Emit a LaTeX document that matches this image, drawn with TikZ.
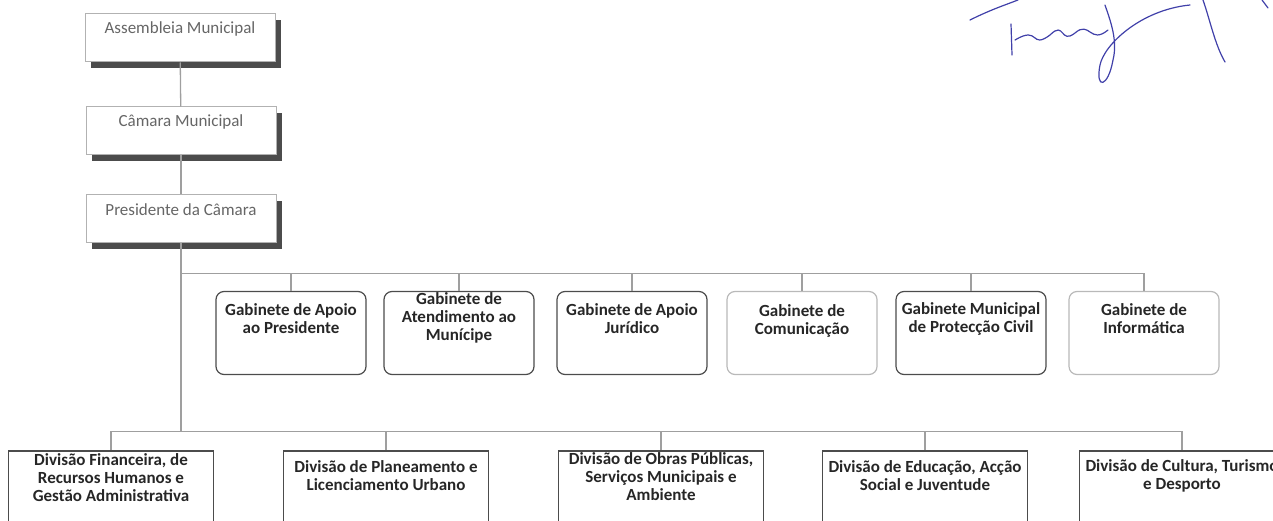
\documentclass[tikz,border=0pt]{standalone}
\usepackage{fontspec}
\setmainfont{Carlito}
\usetikzlibrary{positioning,shadows}

\begin{document}
\begin{tikzpicture}[x=1pt,y=-1pt,
            line/.style={draw=gray!75,line width=1.3pt},
            top/.style={draw=gray!60,fill=white,line width=1pt,
              minimum width=190pt,minimum height=48pt,
              drop shadow={shadow xshift=6pt,shadow yshift=-6pt,fill=black!70,opacity=1}},
            gab/.style={rounded corners=8pt,draw=gray!60!black,line width=1.2pt,
              minimum width=150pt,minimum height=83pt},
            div/.style={draw=gray!60!black,line width=1.2pt,
              minimum width=205pt,minimum height=100pt},
            toplab/.style={anchor=center,align=center,yshift=-15pt,
              font=\fontsize{17}{19}\selectfont,text=black!60},
            lab/.style={anchor=center,align=center,
              font=\bfseries\fontsize{17}{18}\selectfont,text=black!85}]
            \useasboundingbox (0,0) rectangle (1273,521);
            \clip (0,0) rectangle (1273,521);

            % top of the chain
            \node[top,label={[toplab]north:Assembleia Municipal}](assem) at (180,38){};
            \node[top,label={[toplab]north:Câmara Municipal}](camara) at (181,131){};
            \node[top,label={[toplab]north:Presidente da Câmara}](pres) at (181,219){};

            % gabinetes
            \node[gab,label={[lab,yshift=-28pt]north:{Gabinete de Apoio\\ao Presidente}}](gapoio) at (291,333){};
            \node[gab,label={[lab,yshift=-27pt]north:{Gabinete de\\Atendimento ao\\Munícipe}}](gatend) at (459,333){};
            \node[gab,label={[lab,yshift=-28pt]north:{Gabinete de Apoio\\Jurídico}}](gjur) at (632,333){};
            \node[gab,draw=gray!55,label={[lab,yshift=-30pt]north:{Gabinete de\\Comunicação}}](gcom) at (802,333){};
            \node[gab,label={[lab,yshift=-28pt]north:{Gabinete Municipal\\de Protecção Civil}}](gprot) at (971,333){};
            \node[gab,draw=gray!55,label={[lab,yshift=-28pt]north:{Gabinete de\\Informática}}](ginf) at (1144,333){};

            % divisoes
            \node[div,label={[lab,yshift=-27pt]north:{Divisão Financeira, de\\Recursos Humanos e\\Gestão Administrativa}}](dfin) at (111,501){};
            \node[div,label={[lab,yshift=-25pt]north:{Divisão de Planeamento e\\Licenciamento Urbano}}](dplan) at (386,501){};
            \node[div,label={[lab,yshift=-26pt]north:{Divisão de Obras Públicas,\\Serviços Municipais e\\Ambiente}}](dobras) at (661,501){};
            \node[div,label={[lab,yshift=-25pt]north:{Divisão de Educação, Acção\\Social e Juventude}}](dedu) at (925,501){};
            \node[div,label={[lab,yshift=-25pt]north:{Divisão de Cultura, Turismo\\e Desporto}}](dcult) at (1182,501){};

            \path (pres.south) ++(0,30) coordinate (gbus);
            \path (pres.south) ++(0,188) coordinate (dbus);

            \path[line] (assem) edge (camara)
            (camara) edge (pres)
            (pres.south) edge (dbus);
            \foreach \g in {gapoio,gatend,gjur,gcom,gprot,ginf}
              \draw[line] (gbus) -| (\g.north);
            \foreach \d in {dfin,dplan,dobras,dedu,dcult}
              \draw[line] (dbus) -| (\d.north);

            % rubrica
            \begin{scope}[draw=blue!55!black!75,line width=1.2pt,line cap=round]
            \draw (970,20) .. controls (990,10) and (1005,5) .. (1018,0);
            \draw (1011,24) -- (1012,55);
            \draw (1015,40) .. controls (1040,25) and (1030,50) .. (1050,35)
              .. controls (1065,20) and (1060,45) .. (1075,33)
              .. controls (1090,20) and (1090,45) .. (1108,30);
            \draw (1105,5) .. controls (1110,20) and (1118,40) .. (1113,60)
              .. controls (1108,88) and (1095,90) .. (1100,65)
              .. controls (1104,45) and (1140,10) .. (1190,5);
            \draw (1203,0) .. controls (1210,20) and (1215,45) .. (1225,62);
            \draw (1262,0) -- (1268,8);
            \end{scope}
            \end{tikzpicture}
\end{document}
